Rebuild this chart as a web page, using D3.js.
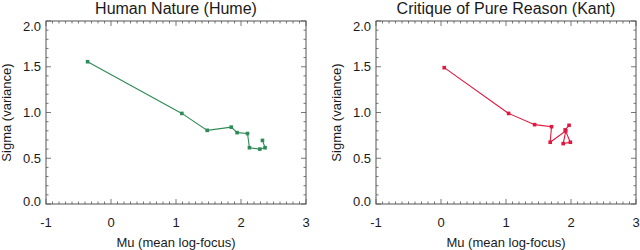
<!DOCTYPE html>
<html>
<head>
<meta charset="utf-8">
<script src="https://cdn.jsdelivr.net/npm/d3@7"></script>
<style>
  body { margin: 0; background: #fff; }
  svg text { font-family: "Liberation Sans", Arial, sans-serif; fill: #1a1a1a; }
</style>
</head>
<body>
<div id="chart"></div>
<script>
// values (mu, sigma) in drawing order
var humeMu    = [-0.36, 1.09, 1.48, 1.85, 1.94, 2.10, 2.13, 2.29, 2.37, 2.33];
var humeSigma = [1.555, 0.99, 0.805, 0.84, 0.78, 0.77, 0.615, 0.60, 0.615, 0.695];
var kantMu    = [0.05, 1.04, 1.44, 1.70, 1.68, 1.92, 1.88, 1.99, 1.91, 1.97];
var kantSigma = [1.49, 0.99, 0.867, 0.845, 0.675, 0.80, 0.66, 0.675, 0.81, 0.86];

var titles = ["Human Nature (Hume)", "Critique of Pure Reason (Kant)"];
var xTicks = [-1, 0, 1, 2, 3];
var yTicks = [0.0, 0.5, 1.0, 1.5, 2.0];
var xLabel = "Mu (mean log-focus)";
var yLabel = "Sigma (variance)";

var panels = [
  { title: titles[0], mu: humeMu, sigma: humeSigma, color: "#2e8b57", left: 46 },
  { title: titles[1], mu: kantMu, sigma: kantSigma, color: "#e0173f", left: 376 }
];

var svg = d3.select("#chart").append("svg")
  .attr("width", 640)
  .attr("height", 250);

var plotTop = 21, plotBottom = 204, plotW = 260;
var axisColor = "#555";

panels.forEach(function (p) {
  var x = d3.scaleLinear().domain([-1, 3]).range([p.left, p.left + plotW]);
  var y = d3.scaleLinear().domain([0, 2]).range([plotBottom, plotTop]);
  var g = svg.append("g");

  // minor / major ticks pointing inward on all four sides
  var xMinor = d3.range(-1, 3.0001, 0.1);
  var yMinor = d3.range(0, 2.0001, 0.1);
  function isMajor(v, step) { return Math.abs(v / step - Math.round(v / step)) < 1e-6; }

  xMinor.forEach(function (v) {
    var len = isMajor(v, 1) ? 5 : 2.5;
    g.append("line").attr("x1", x(v)).attr("x2", x(v)).attr("y1", plotBottom).attr("y2", plotBottom - len)
      .attr("stroke", axisColor).attr("stroke-width", 0.8);
    g.append("line").attr("x1", x(v)).attr("x2", x(v)).attr("y1", plotTop).attr("y2", plotTop + len)
      .attr("stroke", axisColor).attr("stroke-width", 0.8);
  });
  yMinor.forEach(function (v) {
    var len = isMajor(v, 0.5) ? 5 : 2.5;
    g.append("line").attr("x1", p.left).attr("x2", p.left + len).attr("y1", y(v)).attr("y2", y(v))
      .attr("stroke", axisColor).attr("stroke-width", 0.8);
    g.append("line").attr("x1", p.left + plotW).attr("x2", p.left + plotW - len).attr("y1", y(v)).attr("y2", y(v))
      .attr("stroke", axisColor).attr("stroke-width", 0.8);
  });

  // frame
  g.append("rect")
    .attr("x", p.left).attr("y", plotTop)
    .attr("width", plotW).attr("height", plotBottom - plotTop)
    .attr("fill", "none").attr("stroke", axisColor).attr("stroke-width", 1);

  // tick labels
  g.selectAll(".xl").data(xTicks).enter().append("text")
    .attr("x", function (d) { return x(d); })
    .attr("y", 227)
    .attr("text-anchor", "middle")
    .attr("font-size", 13)
    .text(function (d) { return d; });

  g.selectAll(".yl").data(yTicks).enter().append("text")
    .attr("x", p.left - 5)
    .attr("y", function (d) {
      var shift = d === 2 ? 5 : (d === 0 ? -3 : 0);
      return y(d) + shift;
    })
    .attr("dy", "0.35em")
    .attr("text-anchor", "end")
    .attr("font-size", 13)
    .text(function (d) { return d3.format(".1f")(d); });

  // titles
  g.append("text")
    .attr("x", p.left + plotW / 2).attr("y", 14)
    .attr("text-anchor", "middle")
    .attr("font-size", 16)
    .text(p.title);

  g.append("text")
    .attr("x", p.left + plotW / 2).attr("y", 247)
    .attr("text-anchor", "middle")
    .attr("font-size", 13)
    .text(xLabel);

  g.append("text")
    .attr("transform", "translate(" + (p.left - 35) + "," + ((plotTop + plotBottom) / 2) + ") rotate(-90)")
    .attr("text-anchor", "middle")
    .attr("font-size", 13)
    .text(yLabel);

  // line + square markers
  var pts = p.mu.map(function (m, i) { return [m, p.sigma[i]]; });
  var line = d3.line()
    .x(function (d) { return x(d[0]); })
    .y(function (d) { return y(d[1]); });

  g.append("path")
    .datum(pts)
    .attr("d", line)
    .attr("fill", "none")
    .attr("stroke", p.color)
    .attr("stroke-width", 1.1);

  g.selectAll(".pt").data(pts).enter().append("rect")
    .attr("x", function (d) { return x(d[0]) - 1.8; })
    .attr("y", function (d) { return y(d[1]) - 1.8; })
    .attr("width", 3.6).attr("height", 3.6)
    .attr("fill", p.color);
});
</script>
</body>
</html>
